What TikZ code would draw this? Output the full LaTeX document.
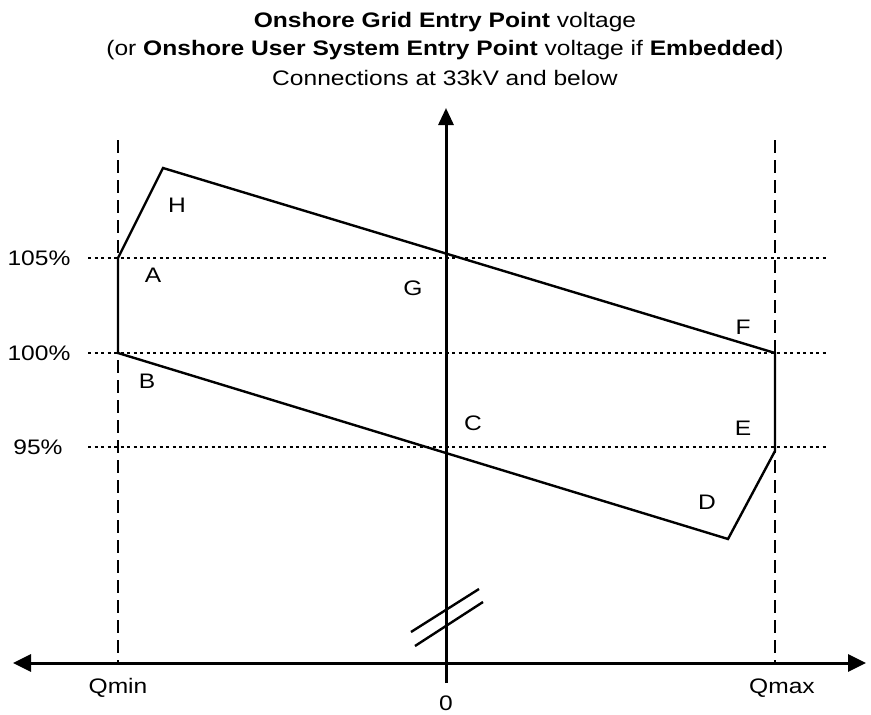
\documentclass[tikz,border=0pt]{standalone}
\usepackage{fontspec}
\setmainfont{Liberation Sans}[FakeStretch=1.17]
\usetikzlibrary{arrows.meta}
\begin{document}
\begin{tikzpicture}[x=1pt,y=-1pt,
  lbl/.style={inner sep=0pt,font=\fontsize{21}{25}\selectfont},
  axisline/.style={line width=3pt},
  dashline/.style={line width=2.6pt,dash pattern=on 13pt off 7pt},
  dotline/.style={line width=2.6pt,dash pattern=on 3pt off 3.5pt},
  region/.style={line width=2.4pt,line join=miter},
  brk/.style={line width=2.4pt}]
\useasboundingbox (0,0) rectangle (871,715);
% title
\node[lbl] (t1) at (445,22) {\textbf{Onshore Grid Entry Point} voltage};
\node[lbl] (t2) at (445,50) {(or \textbf{Onshore User System Entry Point} voltage if \textbf{Embedded})};
\node[lbl] (t3) at (445,78) {Connections at 33kV and below};
% axes
\coordinate (vb) at (446,683);
\coordinate (vt) at (446,108);
\coordinate (hl) at (13,663);
\coordinate (hr) at (866,663);
\draw[axisline,-{Triangle[length=17pt,width=15pt]}] (vb) -- (vt);
\draw[axisline,{Triangle[length=18pt,width=17pt]}-{Triangle[length=18pt,width=17pt]}] (hl) -- (hr);
% dashed limits
\coordinate (qmint) at (118,140);
\coordinate (qminb) at (118,663);
\coordinate (qmaxt) at (775,140);
\coordinate (qmaxb) at (775,663);
\draw[dashline] (qmint) -- (qminb);
\draw[dashline] (qmaxt) -- (qmaxb);
% dotted levels
\coordinate (l105a) at (88,258);  \coordinate (l105b) at (827,258);
\coordinate (l100a) at (88,353);  \coordinate (l100b) at (827,353);
\coordinate (l95a) at (88,447);   \coordinate (l95b) at (827,447);
\draw[dotline] (l105a) -- (l105b);
\draw[dotline] (l100a) -- (l100b);
\draw[dotline] (l95a) -- (l95b);
% region
\coordinate (pA) at (118,258);
\coordinate (pH) at (163,168);
\coordinate (pF) at (775,353);
\coordinate (pE) at (775,451);
\coordinate (pD) at (728,539);
\coordinate (pB) at (118,353);
\draw[region] (pA) -- (pH) -- (pF) -- (pE) -- (pD) -- (pB) -- cycle;
% axis break
\coordinate (b1a) at (411,632); \coordinate (b1b) at (479,589);
\coordinate (b2a) at (415,646); \coordinate (b2b) at (483,602);
\draw[brk] (b1a) -- (b1b);
\draw[brk] (b2a) -- (b2b);
% labels
\node[lbl] (lH) at (177,205) {H};
\node[lbl] (lA) at (153,275) {A};
\node[lbl] (lG) at (413,288) {G};
\node[lbl] (lF) at (743,327) {F};
\node[lbl] (lB) at (147,381) {B};
\node[lbl] (lC) at (473,423) {C};
\node[lbl] (lE) at (743,428) {E};
\node[lbl] (lD) at (707,502) {D};
\node[lbl] (p105) at (39,258) {105\%};
\node[lbl] (p100) at (39,353) {100\%};
\node[lbl] (p95) at (38,447) {95\%};
\node[lbl] (qmin) at (118,688) {Qmin};
\node[lbl] (qmax) at (782,688) {Qmax};
\node[lbl] (zero) at (446,703) {0};
\end{tikzpicture}
\end{document}
